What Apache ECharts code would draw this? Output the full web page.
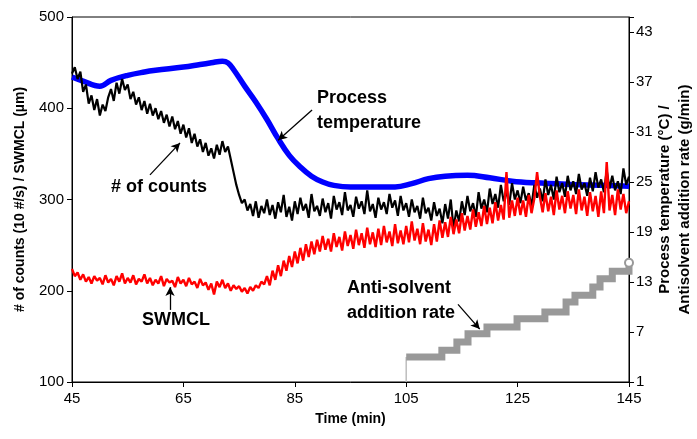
<!DOCTYPE html>
<html>
<head>
<meta charset="utf-8">
<script src="https://cdn.jsdelivr.net/npm/echarts@6/dist/echarts.min.js"></script>
<style>
  html, body { margin: 0; padding: 0; background: #fff; }
  #chart { width: 697px; height: 439px; }
</style>
</head>
<body>
<div id="chart"></div>
<script>
// process temperature (right axis)
var tempTimes = [45, 47, 50, 52, 55, 58, 60, 65, 68, 70, 72, 73, 74, 76, 78, 80, 82, 84, 86, 88, 90, 92, 95, 100, 103, 106, 109, 112, 116, 120, 124, 128, 135, 140, 145];
var tempValues = [37.6, 37.1, 36.5, 37.2, 37.8, 38.2, 38.4, 38.8, 39.1, 39.3, 39.5, 39.3, 38.5, 36.5, 34.6, 32.5, 30.2, 28.2, 26.8, 25.7, 25.0, 24.6, 24.4, 24.4, 24.4, 24.8, 25.4, 25.7, 25.8, 25.5, 25.1, 24.9, 24.7, 24.6, 24.5];

// # of counts and SWMCL, one value every 0.5 min from 45 to 145
var countsValues = [
  438, 445, 432, 440, 418, 426, 405, 414, 398, 410,
  392, 404, 397, 412, 421, 408, 428, 416, 432, 420,
  426, 410, 418, 404, 412, 398, 408, 394, 405, 392,
  400, 388, 397, 384, 393, 380, 391, 377, 386, 372,
  382, 368, 378, 362, 372, 358, 366, 352, 362, 348,
  356, 345, 360, 349, 364, 352, 358, 344, 330, 316,
  305, 296, 300, 288, 295, 282, 298, 280, 293, 285,
  300, 283, 294, 279, 297, 286, 305, 281, 292, 277,
  298, 284, 302, 288, 295, 280, 306, 287, 293, 282,
  301, 286, 296, 279, 304, 289, 297, 283, 308, 288,
  294, 281, 303, 290, 298, 284, 310, 287, 295, 280,
  302, 289, 297, 284, 306, 291, 299, 282, 304, 288,
  296, 281, 300, 286, 293, 279, 302, 285, 291, 277,
  297, 282, 290, 274, 295, 279, 300, 268, 288, 276,
  298, 283, 304, 287, 296, 281, 308, 290, 300, 286,
  312, 295, 306, 291, 316, 298, 309, 294, 318, 300,
  310, 296, 314, 299, 307, 293, 316, 302, 312, 298,
  322, 305, 316, 300, 325, 308, 318, 303, 326, 310,
  320, 306, 328, 311, 318, 304, 324, 309, 330, 313,
  322, 308, 332, 312, 326, 310, 320, 306, 334, 316,
  325
];
var swmclValues = [
  224, 216, 220, 212, 218, 210, 215, 208, 216, 211,
  214, 207, 217, 209, 213, 206, 216, 210, 219, 208,
  214, 209, 217, 207, 213, 210, 218, 208, 214, 206,
  212, 208, 216, 205, 213, 209, 211, 204, 215, 208,
  212, 205, 214, 207, 210, 203, 213, 206, 209, 201,
  208, 196, 210, 204, 212, 203, 208, 200, 206, 202,
  205, 199, 203, 197, 204, 200, 206, 203, 210, 207,
  216, 206, 222, 212, 228, 216, 233, 222, 238, 226,
  243, 230, 247, 233, 251, 237, 254, 240, 256, 243,
  260, 245, 257, 243, 263, 248, 259, 244, 265, 249,
  261, 246, 267, 250, 263, 247, 269, 251, 264, 248,
  268, 250, 271, 253, 265, 249, 273, 252, 266, 251,
  271, 253, 276, 255, 268, 251, 274, 254, 267, 250,
  273, 254, 277, 258, 275, 259, 281, 262, 278, 263,
  285, 266, 282, 267, 289, 270, 286, 271, 293, 273,
  291, 274, 297, 277, 294, 278, 330, 280, 299, 282,
  302, 283, 299, 281, 305, 285, 301, 330, 303, 286,
  307, 287, 303, 283, 310, 289, 304, 285, 309, 290,
  305, 284, 311, 288, 303, 282, 308, 287, 304, 281,
  309, 285, 341, 288, 305, 283, 311, 289, 306, 285,
  298
];

// anti-solvent addition rate steps (right axis)
var rateTimes = [105, 111.4, 114.1, 116.1, 119.5, 124.9, 129.9, 133.7, 135.3, 138.5, 139.8, 142, 145];
var rateValues = [4.0, 4.8, 5.8, 6.8, 7.6, 8.6, 9.4, 10.6, 11.4, 12.4, 13.4, 14.3, 15.3];

var xTicks = [45, 65, 85, 105, 125, 145];
var leftTicks = [100, 200, 300, 400, 500];
var rightTicks = [1, 7, 13, 19, 25, 31, 37, 43];

var FONT = 'Liberation Sans, Arial, sans-serif';

function pairs(xs, ys) {
  var out = [];
  for (var i = 0; i < ys.length; i++) out.push([xs[i], ys[i]]);
  return out;
}
var halfMin = [];
for (var i = 0; i < countsValues.length; i++) halfMin.push(45 + i * 0.5);

var rateData = pairs(rateTimes, rateValues);
rateData[rateData.length - 1] = {
  value: rateData[rateData.length - 1],
  symbol: 'circle', symbolSize: 8,
  itemStyle: { color: '#fff', borderColor: '#999', borderWidth: 2 }
};

var chart = echarts.init(document.getElementById('chart'));

var option = {
  animation: false,
  textStyle: { fontFamily: FONT },
  grid: {
    left: 72, right: 68, top: 17, bottom: 57, outerBoundsMode: 'none',
    show: true, borderColor: '#000', borderWidth: 1
  },
  xAxis: {
    type: 'value', min: xTicks[0], max: xTicks[xTicks.length - 1], interval: 20,
    name: 'Time (min)', nameLocation: 'middle', nameGap: 30, nameMoveOverlap: false,
    nameTextStyle: { fontSize: 14, fontWeight: 'bold', color: '#000', fontFamily: FONT },
    axisLine: { lineStyle: { color: '#000' } },
    axisTick: { length: 5, lineStyle: { color: '#000' } },
    axisLabel: { fontSize: 15, color: '#000', margin: 9, fontFamily: FONT },
    splitLine: { show: false }
  },
  yAxis: [{
    type: 'value', position: 'left', min: leftTicks[0], max: leftTicks[leftTicks.length - 1], interval: 100,
    name: '# of counts (10 #/s) / SWMCL (\u00b5m)', nameLocation: 'middle', nameGap: 45, nameMoveOverlap: false,
    nameTextStyle: { fontSize: 14, fontWeight: 'bold', color: '#000', fontFamily: FONT },
    axisLine: { show: true, lineStyle: { color: '#000' } },
    axisTick: { show: true, length: 5, lineStyle: { color: '#000' } },
    axisLabel: { fontSize: 15, color: '#000', margin: 8, fontFamily: FONT },
    splitLine: { show: false }
  }, {
    type: 'value', position: 'right', min: rightTicks[0], max: 44.8, interval: 6,
    name: 'Process temperature (\u00b0C) /\nAntisolvent addition rate (g/min)',
    nameLocation: 'middle', nameGap: 26, nameRotate: 90, nameMoveOverlap: false,
    nameTextStyle: { fontSize: 15, fontWeight: 'bold', color: '#000', fontFamily: FONT, lineHeight: 20, padding: [0, 0, 16, 0] },
    axisLine: { show: true, lineStyle: { color: '#000' } },
    axisTick: { show: true, length: 5, lineStyle: { color: '#000' } },
    axisLabel: {
      fontSize: 15, color: '#000', margin: 7, fontFamily: FONT,
      formatter: function (v) { return rightTicks.indexOf(Math.round(v * 10) / 10) >= 0 ? String(v) : ''; }
    },
    splitLine: { show: false }
  }],
  series: [{
    name: 'Process temperature', type: 'line', yAxisIndex: 1, smooth: 0.4,
    data: pairs(tempTimes, tempValues), showSymbol: false,
    lineStyle: { color: '#0000ff', width: 5.5 }, z: 2
  }, {
    name: '# of counts', type: 'line', yAxisIndex: 0,
    data: pairs(halfMin, countsValues), showSymbol: false,
    lineStyle: { color: '#000', width: 2.2 }, z: 3,
    markLine: {
      silent: true, symbol: ['none', 'arrow'], symbolSize: [7, 9], label: { show: false },
      lineStyle: { color: '#000', width: 1.3, type: 'solid' },
      data: [
        [{ coord: [88.1, 398] }, { coord: [82.0, 365] }],
        [{ coord: [59.0, 327] }, { coord: [64.4, 362] }],
        [{ coord: [62.6, 179] }, { coord: [62.6, 204] }],
        [{ coord: [114.3, 185] }, { coord: [118.2, 158] }]
      ]
    }
  }, {
    name: 'SWMCL', type: 'line', yAxisIndex: 0,
    data: pairs(halfMin, swmclValues), showSymbol: false,
    lineStyle: { color: '#ff0000', width: 2.4 }, z: 4
  }, {
    name: 'start', type: 'line', yAxisIndex: 1,
    data: [[rateTimes[0], rightTicks[0]], [rateTimes[0], rateValues[0]]], showSymbol: false,
    lineStyle: { color: '#bdbdbd', width: 1.5 }, z: 5
  }, {
    name: 'Anti-solvent addition rate', type: 'line', yAxisIndex: 1, step: 'end',
    data: rateData, symbol: 'none', showSymbol: true,
    lineStyle: { color: '#999999', width: 7, cap: 'butt', join: 'miter' }, z: 5
  }],
  graphic: [
    { type: 'text', left: 317, top: 89, style: { text: 'Process', font: 'bold 18px ' + FONT, fill: '#000' } },
    { type: 'text', left: 317, top: 114, style: { text: 'temperature', font: 'bold 18px ' + FONT, fill: '#000' } },
    { type: 'text', left: 111, top: 178, style: { text: '# of counts', font: 'bold 18px ' + FONT, fill: '#000' } },
    { type: 'text', left: 142, top: 311, style: { text: 'SWMCL', font: 'bold 18px ' + FONT, fill: '#000' } },
    { type: 'text', left: 347, top: 279, style: { text: 'Anti-solvent', font: 'bold 18px ' + FONT, fill: '#000' } },
    { type: 'text', left: 347, top: 304, style: { text: 'addition rate', font: 'bold 18px ' + FONT, fill: '#000' } }
  ]
};

chart.setOption(option);
</script>
</body>
</html>
